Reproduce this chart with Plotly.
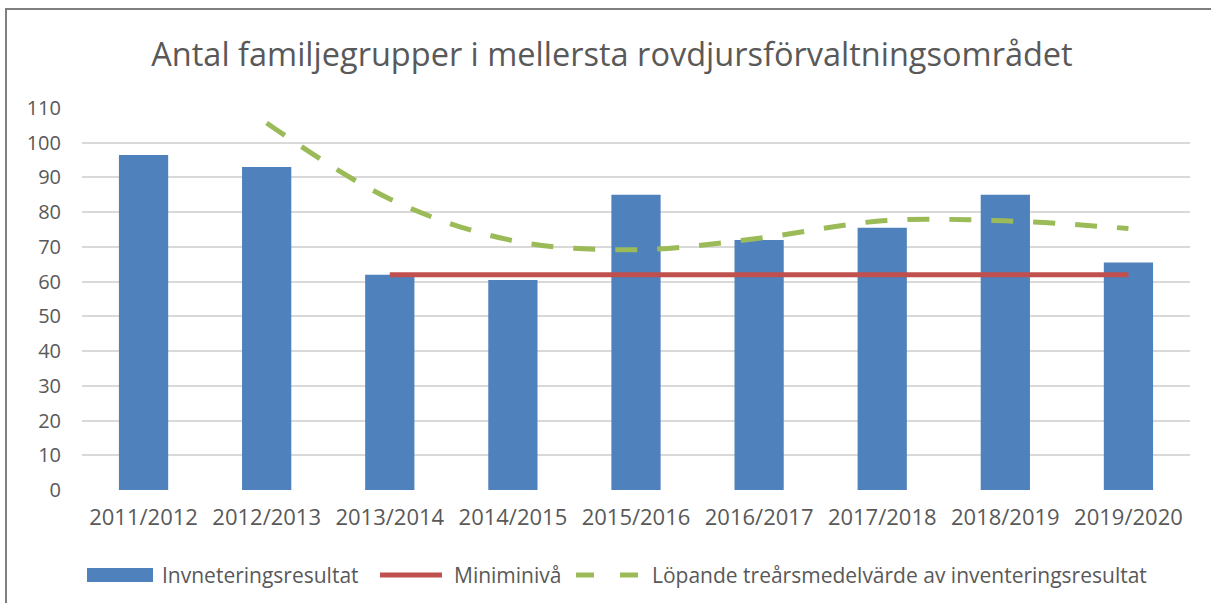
import plotly.graph_objects as go

categories = ["2011/2012", "2012/2013", "2013/2014", "2014/2015", "2015/2016",
              "2016/2017", "2017/2018", "2018/2019", "2019/2020"]
inventering = [96.5, 93, 62, 60.5, 85, 72, 75.5, 85, 65.5]
miniminiva = [None, None, 62, 62, 62, 62, 62, 62, 62]
lopande = [None, 105.7, 83.8, 71.8, 69.2, 72.5, 77.5, 77.5, 75.3]
y_ticks = [0, 10, 20, 30, 40, 50, 60, 70, 80, 90, 100, 110]

names = ["Invneteringsresultat", "Miniminivå",
         "Löpande treårsmedelvärde av inventeringsresultat"]

BLUE = "#4F81BD"
RED = "#C0504D"
GREEN = "#9BBB59"
TXT = "#595959"
GRID = "#D9D9D9"
FONT = "Open Sans"

fig = go.Figure()
fig.add_trace(go.Bar(x=categories, y=inventering, name=names[0],
                     marker=dict(color=BLUE, line=dict(width=0)), showlegend=False))
fig.add_trace(go.Scatter(x=categories, y=miniminiva, name=names[1], mode="lines",
                         line=dict(color=RED, width=5), showlegend=False))
fig.add_trace(go.Scatter(x=categories, y=lopande, name=names[2], mode="lines",
                         line=dict(color=GREEN, width=5, dash="22px,20px", shape="spline"),
                         showlegend=False))

# plot area geometry in pixels (for legend / frame placement)
L, R, T, B = 82, 1190, 108, 490
W, H = R - L, B - T
def px(x):
    return (x - L) / W
def py(y):
    return (B - y) / H

shapes = [
    # chart frame
    dict(type="rect", xref="paper", yref="paper", x0=px(6), x1=px(1216), y0=py(612), y1=py(9),
         line=dict(color="#7F7F7F", width=2), fillcolor="rgba(0,0,0,0)", layer="below"),
    # legend symbols
    dict(type="rect", xref="paper", yref="paper", x0=px(87), x1=px(153), y0=py(582), y1=py(568),
         line=dict(width=0), fillcolor=BLUE),
    dict(type="line", xref="paper", yref="paper", x0=px(380), x1=px(442), y0=py(575), y1=py(575),
         line=dict(color=RED, width=5)),
    dict(type="line", xref="paper", yref="paper", x0=px(576), x1=px(594), y0=py(575), y1=py(575),
         line=dict(color=GREEN, width=5)),
    dict(type="line", xref="paper", yref="paper", x0=px(620), x1=px(638), y0=py(575), y1=py(575),
         line=dict(color=GREEN, width=5)),
]
annotations = [
    dict(xref="paper", yref="paper", x=px(160), y=py(575), text=names[0], showarrow=False,
         xanchor="left", yanchor="middle", font=dict(family=FONT, size=21, color=TXT)),
    dict(xref="paper", yref="paper", x=px(452), y=py(575), text=names[1], showarrow=False,
         xanchor="left", yanchor="middle", font=dict(family=FONT, size=21, color=TXT)),
    dict(xref="paper", yref="paper", x=px(650), y=py(575), text=names[2], showarrow=False,
         xanchor="left", yanchor="middle", font=dict(family=FONT, size=21, color=TXT)),
]

fig.update_layout(
    width=1211, height=603,
    margin=dict(l=L, r=1211 - R, t=T, b=603 - B),
    paper_bgcolor="white", plot_bgcolor="white",
    title=dict(text="Antal familjegrupper i mellersta rovdjursförvaltningsområdet",
               x=612 / 1211, xanchor="center", y=1 - 55 / 603, yanchor="middle",
               xref="container", yref="container",
               font=dict(family=FONT, size=32.5, color=TXT)),
    bargap=0.6,
    shapes=shapes,
    annotations=annotations,
    font=dict(family=FONT, color=TXT),
)
fig.update_xaxes(showgrid=False, showline=False, ticks="",
                 tickfont=dict(family=FONT, size=22, color=TXT), ticklabelstandoff=12)
fig.update_yaxes(range=[0, 110], tickvals=y_ticks, showgrid=True, gridcolor=GRID, gridwidth=1.5,
                 zeroline=False, showline=False, ticks="",
                 tickfont=dict(family=FONT, size=20, color=TXT), ticklabelstandoff=20)

fig.write_html("out.html",
               config={"displayModeBar": False},
               post_script="document.body.style.margin='0';document.body.style.overflow='hidden';")
